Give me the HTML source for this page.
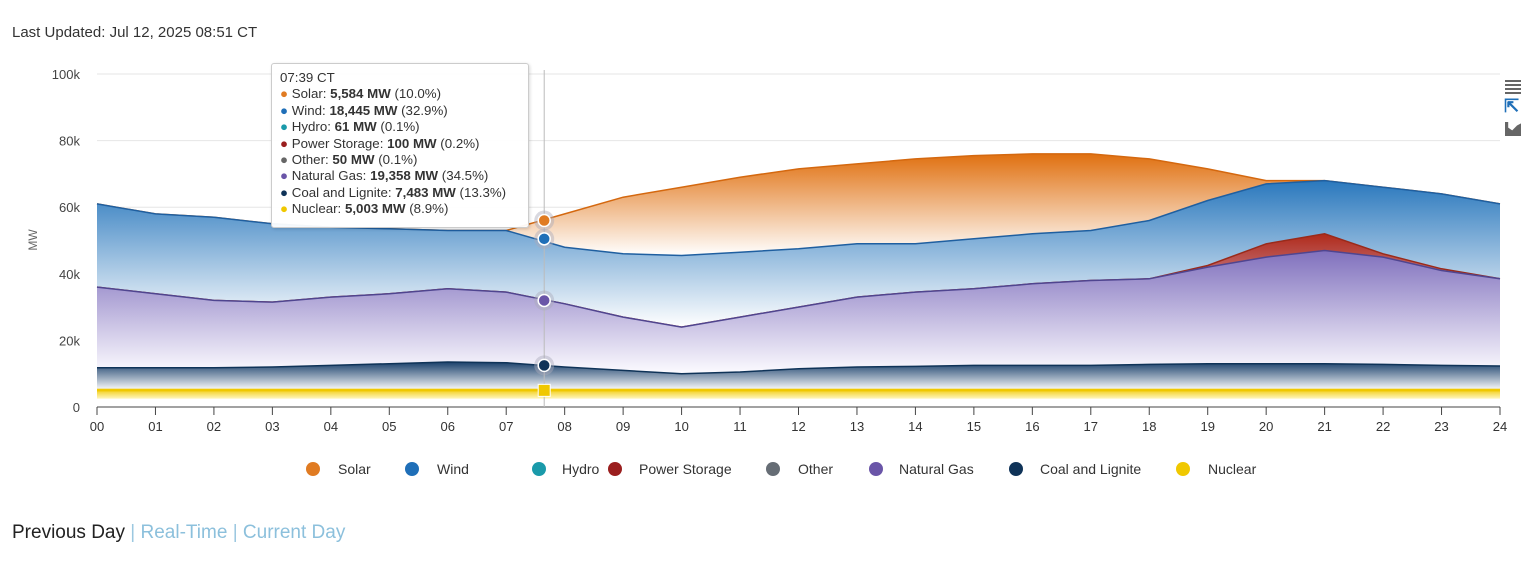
<!DOCTYPE html>
<html><head><meta charset="utf-8"><style>
body{margin:0;width:1536px;height:564px;background:#fff;font-family:"Liberation Sans",sans-serif;overflow:hidden;position:relative}
.t{position:absolute;white-space:nowrap}
</style></head><body>
<div class="t" style="left:12px;top:24px;font-size:15px;color:#333">Last Updated: Jul 12, 2025 08:51 CT</div>
<svg id="chart" width="1536" height="564" style="position:absolute;left:0;top:0">
<defs>
<linearGradient id="gSolar" x1="0" y1="0" x2="0" y2="1"><stop offset="0" stop-color="#e07010"/><stop offset="1" stop-color="#fff"/></linearGradient>
<linearGradient id="gWind" x1="0" y1="0" x2="0" y2="1"><stop offset="0" stop-color="#2a78bd"/><stop offset="1" stop-color="#fff"/></linearGradient>
<linearGradient id="gStor" x1="0" y1="0" x2="0" y2="1"><stop offset="0" stop-color="#b02a1a"/><stop offset="1" stop-color="#d8c8e8"/></linearGradient>
<linearGradient id="gGas" x1="0" y1="0" x2="0" y2="1"><stop offset="0" stop-color="#8070bd"/><stop offset="1" stop-color="#fcfbff"/></linearGradient>
<linearGradient id="gCoal" x1="0" y1="0" x2="0" y2="1"><stop offset="0" stop-color="#1a406b"/><stop offset="1" stop-color="#ffffff"/></linearGradient>
<linearGradient id="gNuc" x1="0" y1="0" x2="0" y2="1"><stop offset="0" stop-color="#f0c800"/><stop offset="1" stop-color="#fff6c0"/></linearGradient>
</defs>
<g id="grid"></g><g id="areas"></g><g id="axes"></g><g id="marks"></g>
</svg>
<div style="position:absolute;left:271px;top:63px;width:258px;height:165px;background:rgba(255,255,255,0.95);border:1px solid #ccc;border-radius:3px;box-shadow:1px 1px 3px rgba(0,0,0,.15);font-size:13.3px;color:#333;line-height:16.4px;padding:6px 8px;box-sizing:border-box">
<div>07:39 CT</div>
<div><span style="color:#e07b22">●</span> Solar: <b>5,584 MW</b> (10.0%)</div>
<div><span style="color:#1f6fb8">●</span> Wind: <b>18,445 MW</b> (32.9%)</div>
<div><span style="color:#1a9aaa">●</span> Hydro: <b>61 MW</b> (0.1%)</div>
<div><span style="color:#9a1e1e">●</span> Power Storage: <b>100 MW</b> (0.2%)</div>
<div><span style="color:#666">●</span> Other: <b>50 MW</b> (0.1%)</div>
<div><span style="color:#6a55a8">●</span> Natural Gas: <b>19,358 MW</b> (34.5%)</div>
<div><span style="color:#0f3358">●</span> Coal and Lignite: <b>7,483 MW</b> (13.3%)</div>
<div><span style="color:#f0c800">●</span> Nuclear: <b>5,003 MW</b> (8.9%)</div>
</div>
<div style="position:absolute;left:1505px;top:80px;width:16px;height:14px;background:repeating-linear-gradient(#666 0 2px,transparent 2px 4px)"></div>
<div class="t" style="left:1504px;top:96px;font-size:18px;color:#1f6fb8;font-weight:bold">⇱</div>
<div style="position:absolute;left:1505px;top:122px;width:16px;height:14px;background:#666;clip-path:polygon(0 0,20% 0,20% 40%,45% 60%,75% 25%,100% 10%,100% 100%,0 100%)"></div>
<div id="legend"></div>
<div class="t" style="left:12px;top:522px;font-size:19px;color:#222"><span>Previous Day</span><span style="color:#9cc8e0"> | </span><span style="color:#8cc0dc">Real-Time</span><span style="color:#9cc8e0"> | </span><span style="color:#8cc0dc">Current Day</span></div>
<script>
const hours=[0,1,2,3,4,5,6,7,8,9,10,11,12,13,14,15,16,17,18,19,20,21,22,23,24];
const nuclear=[5,5,5,5,5,5,5,5,5,5,5,5,5,5,5,5,5,5,5,5,5,5,5,5,5];
const coalTop=[11.8,11.8,11.8,12,12.5,13,13.5,13.3,12,11,10,10.5,11.5,12,12.2,12.5,12.5,12.5,12.8,13,13,13,12.8,12.5,12.3];
const gasTop=[36,34,32,31.5,33,34,35.5,34.5,31,27,24,27,30,33,34.5,35.5,37,38,38.5,42,45,47,45,41,38.5];
const storageTop=[36,34,32,31.5,33,34,35.5,34.5,31,27,24,27,30,33,34.5,35.5,37,38,38.5,42.5,49,52,46,41.5,38.5];
const windTop=[61,58,57,55,54,53.5,53,53,48,46,45.5,46.5,47.5,49,49,50.5,52,53,56,62,67,68,66,64,61];
const solarTop=[61,58,57,55,54,53.5,53,53,58,63,66,69,71.5,73,74.5,75.5,76,76,74.5,71.5,68,68,66,64,61];
const yTicks=[0,20,40,60,80,100];
const yLabels=["0","20k","40k","60k","80k","100k"];
const xLabels=["00","01","02","03","04","05","06","07","08","09","10","11","12","13","14","15","16","17","18","19","20","21","22","23","24"];
const legendNames=["Solar","Wind","Hydro","Power Storage","Other","Natural Gas","Coal and Lignite","Nuclear"];
const legendColors=["#e07b22","#1f6fb8","#1a9aaa","#9a1e1e","#666d75","#6a55a8","#0f3358","#f0c800"];
const X0=97,X1=1500,Y0=407,Y100=74;
const xs=h=>X0+(X1-X0)*h/24, ys=v=>Y0-(Y0-Y100)*v/100;
const NS="http://www.w3.org/2000/svg";
function mk(tag,attrs,parent){const e=document.createElementNS(NS,tag);for(const k in attrs)e.setAttribute(k,attrs[k]);parent.appendChild(e);return e;}
const grid=document.getElementById('grid'),areas=document.getElementById('areas'),axes=document.getElementById('axes'),marks=document.getElementById('marks');
yTicks.forEach((v,i)=>{
 const l=mk('line',{x1:X0,x2:X1,y1:ys(v),y2:ys(v),stroke:'#e6e6e6'},grid);
 
 
 const t=mk('text',{x:80,y:ys(v)+5,'text-anchor':'end','font-size':13,fill:'#444'},axes);t.textContent=yLabels[i];
 
 
});
const yt=mk('text',{x:37,y:240,'text-anchor':'middle','font-size':12,fill:'#666',transform:'rotate(-90 37 240)'},axes);yt.textContent='MW';


mk('line',{x1:X0,x2:X1,y1:Y0,y2:Y0,stroke:'#444'},axes);
xLabels.forEach((s,i)=>{
 mk('line',{x1:xs(hours[i]),x2:xs(hours[i]),y1:Y0,y2:Y0+8,stroke:'#444'},axes);
 const t=mk('text',{x:xs(hours[i]),y:Y0+24,'text-anchor':'middle','font-size':13,fill:'#333'},axes);t.textContent=s;
 
 
});
function pts(arr){return arr.map((v,i)=>xs(hours[i]).toFixed(1)+','+ys(v).toFixed(1));}
function band(top,bot,fill,stroke,name){
 const d='M'+pts(top).join('L')+'L'+pts(bot).reverse().join('L')+'Z';
 const p=mk('path',{d:d,fill:fill},areas);
 
 
 mk('path',{d:'M'+pts(top).join('L'),fill:'none',stroke:stroke,'stroke-width':1.5},areas);
}
const nucTop=nuclear.map(v=>v);
band(solarTop,windTop,'url(#gSolar)','#d4680f','solar-area');
band(windTop,storageTop,'url(#gWind)','#1f5fa0','wind-area');
band(storageTop,gasTop,'url(#gStor)','#9a2a1a','power-storage-area');
band(gasTop,coalTop,'url(#gGas)','#4f4590','natural-gas-area');
band(coalTop,nucTop,'url(#gCoal)','#0f3358','coal-area');
const nb=mk('rect',{x:X0,y:ys(5.5),width:X1-X0,height:ys(2.5)-ys(5.5),fill:'url(#gNuc)'},areas);


mk('line',{x1:X0,x2:X1,y1:ys(5),y2:ys(5),stroke:'#f0c800','stroke-width':2},areas);
const hx=xs(7.65);
mk('line',{x1:hx,x2:hx,y1:Y100-4,y2:Y0,stroke:'#bbb'},marks);
[[56,'#e07b22'],[50.5,'#1f6fb8'],[32,'#6a55a8'],[12.5,'#0f3358']].forEach(([v,c])=>{
 mk('circle',{cx:hx,cy:ys(v),r:10,fill:'#aab',opacity:0.45},marks);
 const c2=mk('circle',{cx:hx,cy:ys(v),r:6,fill:c,stroke:'#fff','stroke-width':1.5},marks);
 
 
});
mk('rect',{x:hx-6,y:ys(5)-6,width:12,height:12,fill:'#f0c800',stroke:'#fff'},marks);
const dotX=[313,412,539,615,773,876,1016,1183],txtX=[338,437,562,639,798,899,1040,1208];
const lg=document.getElementById('legend');
legendNames.forEach((n,i)=>{
 const d=document.createElement('div');
 d.className='t';d.style.cssText=`left:${dotX[i]-7}px;top:460px;font-size:14px;color:#333;height:18px;line-height:18px`;
 d.innerHTML=`<span style="display:inline-block;width:14px;height:14px;border-radius:7px;background:${legendColors[i]};vertical-align:-2px;margin-right:${txtX[i]-dotX[i]-7}px"></span>${n}`;
 
 
 lg.appendChild(d);
});
</script>
</body></html>
